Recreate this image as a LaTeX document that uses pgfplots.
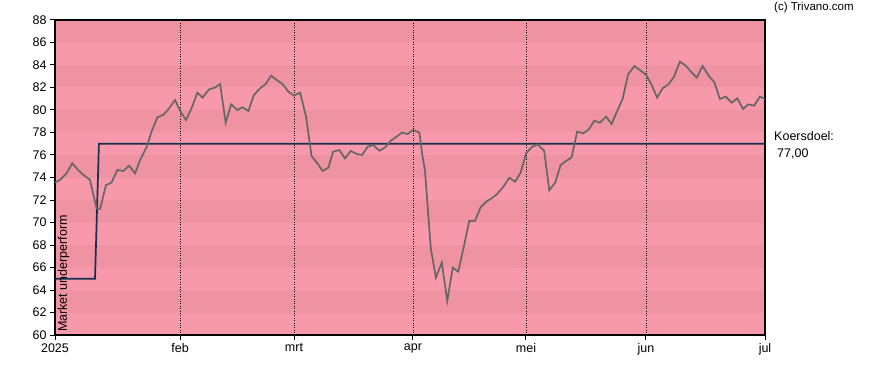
\documentclass[border=0pt]{standalone}
\usepackage{pgfplots}
\pgfplotsset{compat=1.18}
\usepackage{fontspec}
\setmainfont{Liberation Sans}
\definecolor{bandlight}{RGB}{247,153,171}
\definecolor{banddark}{RGB}{239,146,162}
\definecolor{pricecol}{RGB}{102,102,102}
\definecolor{targetcol}{RGB}{22,48,82}
\begin{document}
\begin{tikzpicture}[x=1pt,y=1pt]
\begin{axis}[
  set layers,
  at={(55pt,35pt)}, anchor=south west,
  scale only axis, width=710pt, height=315pt,
  xmin=0, xmax=181, ymin=60, ymax=88,
  xtick={0,31.87,60.93,91.26,120.06,150.65,181},
  xticklabels={2025,feb,mrt,apr,mei,jun,jul},
  ytick={60,62,...,88},
  tick align=outside, major tick length=5pt,
  xtick pos=bottom, ytick pos=left,
  xmajorgrids, grid style={black, dotted, line width=0.8pt},
  axis line style={black, line width=1.2pt},
  tick style={black, line width=1pt},
  font=\fontsize{12.5}{14}\selectfont,
  /pgf/number format/assume math mode=true,
  clip=true,
]
\begin{pgfonlayer}{axis background}
\fill[bandlight] (axis cs:0,60) rectangle (axis cs:181,88);
\foreach \lo in {62,66,70,74,78,82,86} {
  \edef\tmp{\noexpand\fill[banddark] (axis cs:0,\lo) rectangle (axis cs:181,\lo+2);}
  \tmp
}
\end{pgfonlayer}
\addplot[targetcol, line width=1.7pt] coordinates {
(0,65) (10.2,65) (11.2,77) (181,77)
};
\addplot[pricecol, line width=1.7pt] coordinates {
(0,73.54) (1.3,73.8) (3,74.4) (4.4,75.26) (5.9,74.67) (7.6,74.13) (8.9,73.8)
(10.6,71.26) (11.5,71.2) (13,73.33) (14.4,73.54) (15.9,74.67) (17.4,74.58)
(18.9,75.05) (20.4,74.37) (21.7,75.56) (23.4,76.74) (24.6,78.07) (26.1,79.35)
(27.6,79.56) (29.1,80.15) (30.6,80.89) (32,79.85) (33.4,79.11) (34.8,80.15)
(36.3,81.54) (37.6,81.1) (39.3,81.84) (40.8,81.99) (42.1,82.31) (43.5,78.87)
(44.9,80.5) (46.5,80) (47.8,80.24) (49.3,79.91) (50.7,81.33) (52.3,81.93)
(53.7,82.31) (55.1,83.05) (56.5,82.67) (58,82.31) (59.5,81.63) (60.9,81.28)
(62.5,81.54) (64,79.41) (65.4,75.91) (66.9,75.26) (68.2,74.58) (69.7,74.87)
(70.9,76.3) (72.5,76.44) (73.9,75.7) (75.4,76.36) (76.9,76.09) (78.3,76)
(79.7,76.74) (81.1,76.89) (82.7,76.38) (84.1,76.65) (85.6,77.27) (87.1,77.63)
(88.4,77.99) (89.9,77.87) (91.3,78.22) (92.9,77.99) (93.7,75.85) (94.3,74.67)
(95.8,67.7) (97.1,65.1) (98.6,66.43) (100,63.02) (101.4,65.99) (102.8,65.63)
(104.3,68) (105.6,70.13) (107.1,70.16) (108.5,71.35) (109.9,71.85) (111.3,72.15)
(112.7,72.53) (114.3,73.18) (115.8,73.98) (117.3,73.63) (118.7,74.43) (120.1,76.15)
(121.5,76.68) (123,76.95) (124.7,76.38) (126,72.86) (127.5,73.54) (128.9,75.11)
(130.3,75.47) (131.7,75.79) (133.1,78.07) (134.7,77.93) (136.1,78.28) (137.5,79.05)
(138.9,78.87) (140.5,79.41) (141.9,78.76) (143.3,79.91) (144.7,80.98) (146.1,83.17)
(147.7,83.91) (149.3,83.5) (150.7,83.11) (152.1,82.22) (153.5,81.1) (154.9,81.93)
(156.4,82.28) (157.8,82.96) (159.3,84.3) (160.8,83.94) (162.1,83.41) (163.6,82.87)
(165.1,83.91) (166.7,83.02) (168.1,82.46) (169.5,80.98) (171,81.19) (172.5,80.65)
(173.9,81.04) (175.4,80.09) (176.7,80.5) (178.2,80.38) (179.7,81.19) (181,80.98)
};
\end{axis}
\path (0,0) rectangle (888,370);
\node[rotate=90, anchor=north west, inner sep=0pt, font=\fontsize{12.5}{14}\selectfont] at (57.5,38) {Market underperform};
\node[anchor=west, inner sep=0pt, font=\fontsize{11.5}{13}\selectfont] at (774,362) {(c) Trivano.com};
\node[anchor=west, inner sep=0pt, font=\fontsize{12.5}{14}\selectfont] at (774,234) {Koersdoel:};
\node[anchor=west, inner sep=0pt, font=\fontsize{12.5}{14}\selectfont] at (777,216) {77,00};
\end{tikzpicture}
\end{document}
